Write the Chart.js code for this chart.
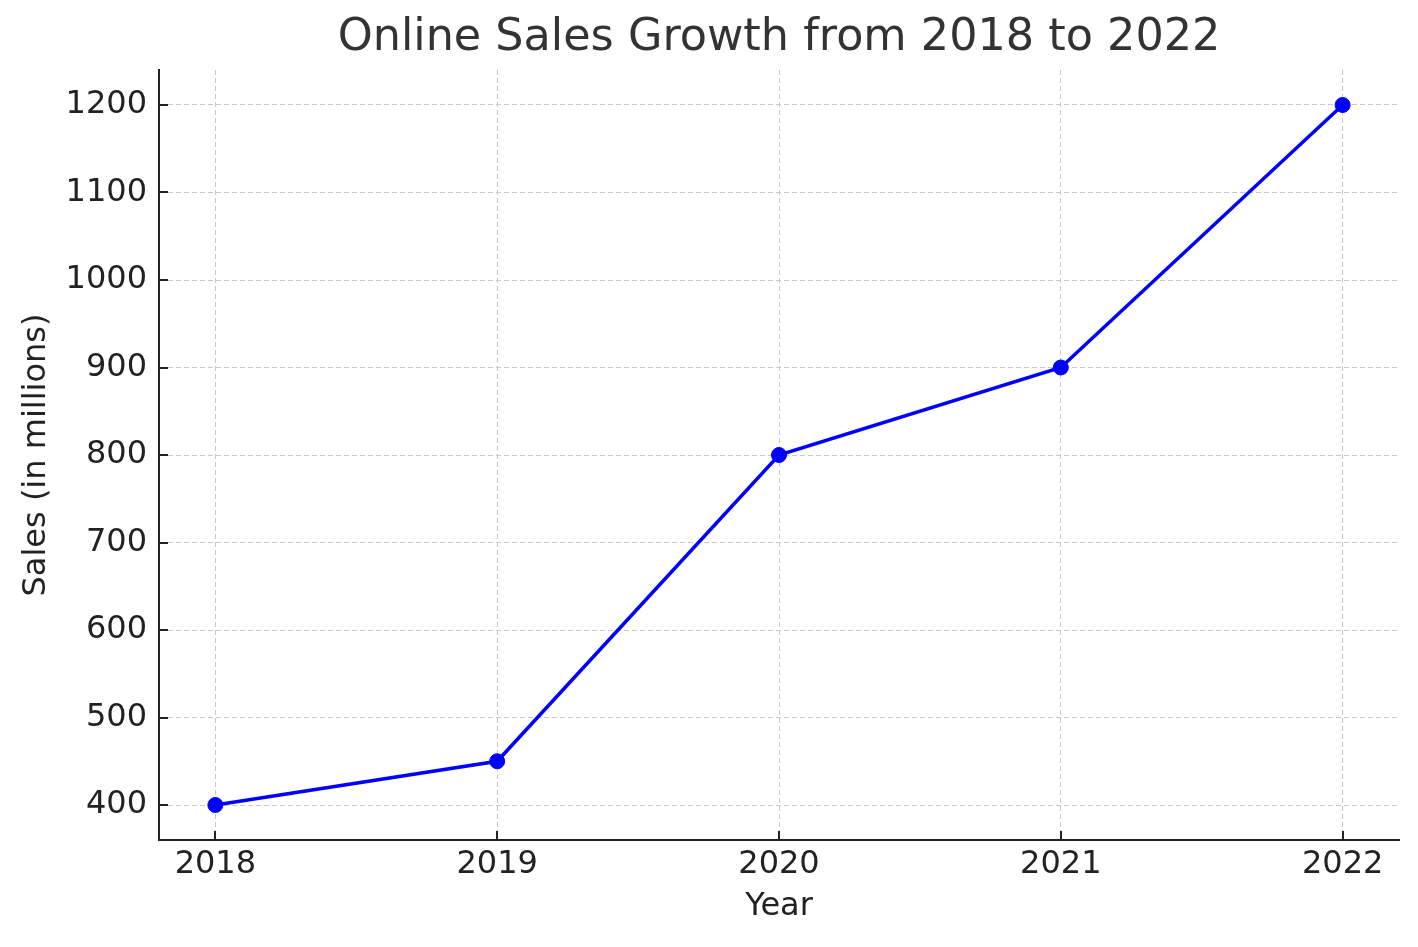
<!DOCTYPE html>
<html>
<head>
<meta charset="utf-8">
<script src="https://cdn.jsdelivr.net/npm/chart.js@4.4.1/dist/chart.umd.min.js"></script>
<style>
html,body{margin:0;padding:0;background:#fff;}
#wrap{width:1418px;height:947px;}
</style>
</head>
<body>
<div id="wrap"><canvas id="c" width="1418" height="947"></canvas></div>
<script>
const years = [2018, 2019, 2020, 2021, 2022];
const sales = [400, 450, 800, 900, 1200];
const yTickValues = [400, 500, 600, 700, 800, 900, 1000, 1100, 1200];
const xTickValues = years;
const chartTitle = 'Online Sales Growth from 2018 to 2022';
const xTitle = 'Year';
const yTitle = 'Sales (in millions)';

const FONT = "'DejaVu Sans', sans-serif";
const points = years.map((y, i) => ({x: y, y: sales[i]}));

// inward tick marks (matplotlib style)
const inwardTicks = {
  id: 'inwardTicks',
  afterDraw(chart) {
    const ctx = chart.ctx;
    const xs = chart.scales.x, ys = chart.scales.y;
    const area = chart.chartArea;
    ctx.save();
    ctx.strokeStyle = '#222222';
    ctx.lineWidth = 2;
    ctx.setLineDash([]);
    ctx.beginPath();
    xs.ticks.forEach(t => {
      const px = Math.round(xs.getPixelForValue(t.value));
      ctx.moveTo(px, area.bottom);
      ctx.lineTo(px, area.bottom - 9);
    });
    ys.ticks.forEach(t => {
      const py = Math.round(ys.getPixelForValue(t.value));
      ctx.moveTo(area.left, py);
      ctx.lineTo(area.left + 9, py);
    });
    ctx.stroke();
    ctx.restore();
  }
};

new Chart(document.getElementById('c'), {
  type: 'line',
  data: {
    datasets: [{
      data: points,
      borderColor: '#0000ff',
      backgroundColor: '#0000ff',
      borderWidth: 3.5,
      pointRadius: 7.5,
      pointBorderWidth: 1,
      pointBackgroundColor: '#0000ff',
      pointBorderColor: '#0000ff',
      tension: 0,
      fill: false
    }]
  },
  plugins: [inwardTicks],
  options: {
    responsive: false,
    animation: false,
    devicePixelRatio: 1,
    layout: {padding: {left: 0, right: 19, top: 0, bottom: 0}},
    plugins: {
      legend: {display: false},
      tooltip: {enabled: false},
      title: {
        display: true,
        text: chartTitle,
        fullSize: false,
        color: '#333333',
        font: {family: FONT, size: 44.5, weight: 'normal', lineHeight: 1.2},
        padding: {top: 12, bottom: 4.6}
      }
    },
    scales: {
      x: {
        type: 'linear',
        min: 2017.8,
        max: 2022.2,
        afterBuildTicks: s => { s.ticks = xTickValues.map(v => ({value: v})); },
        afterFit: s => { s.height = 107; },
        ticks: {
          callback: v => String(v),
          color: '#222222',
          font: {family: FONT, size: 32},
          padding: 5,
          maxRotation: 0,
          autoSkip: false
        },
        grid: {
          color: '#c8c8c8',
          lineWidth: 1,
          drawTicks: false
        },
        border: {display: true, color: '#222222', width: 2, dash: [5, 3]},
        title: {
          display: true,
          text: xTitle,
          color: '#222222',
          font: {family: FONT, size: 32},
          padding: {top: 0, bottom: 21}
        }
      },
      y: {
        type: 'linear',
        min: 360,
        max: 1240,
        afterBuildTicks: s => { s.ticks = yTickValues.map(v => ({value: v})); },
        afterFit: s => { s.width = 159; },
        ticks: {
          callback: v => String(v),
          color: '#222222',
          font: {family: FONT, size: 32},
          padding: 12,
          autoSkip: false
        },
        grid: {
          color: '#c8c8c8',
          lineWidth: 1,
          drawTicks: false
        },
        border: {display: true, color: '#222222', width: 2, dash: [5, 3]},
        title: {
          display: true,
          text: yTitle,
          color: '#222222',
          font: {family: FONT, size: 32},
          padding: {top: 17, bottom: 0}
        }
      }
    }
  }
});
</script>
</body>
</html>
